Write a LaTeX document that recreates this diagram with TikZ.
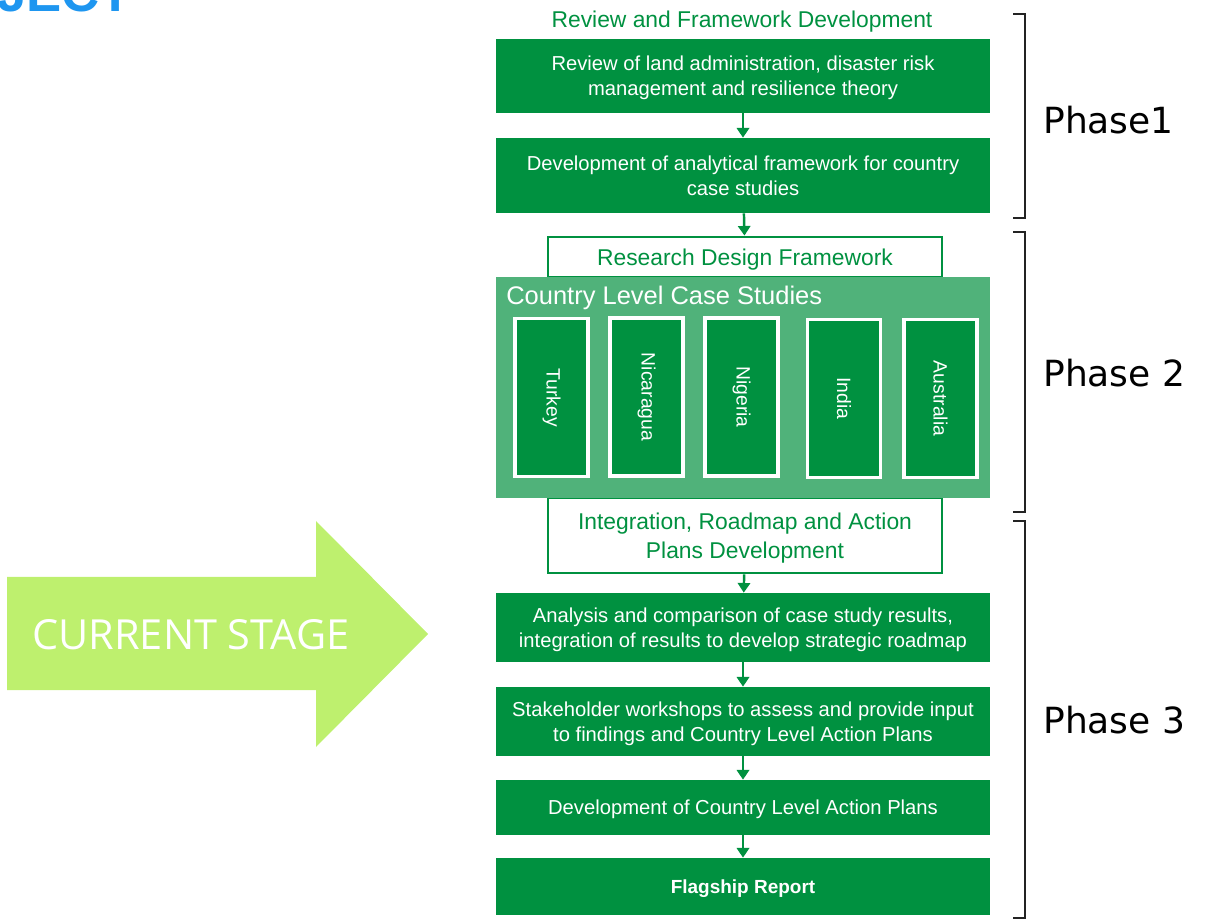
\documentclass[tikz,border=0pt]{standalone}
\usepackage{fontspec}
\setmainfont{Liberation Sans}
\newfontfamily\phasefont{DejaVu Sans}
\newfontfamily\stagefont{Open Sans}
\usetikzlibrary{arrows.meta}
\definecolor{dkgreen}{RGB}{0,145,64}
\definecolor{midgreen}{RGB}{80,178,122}
\definecolor{limegreen}{RGB}{190,240,110}
\definecolor{titleblue}{RGB}{30,150,240}
\definecolor{bracketgray}{RGB}{35,35,35}

\begin{document}
\begin{tikzpicture}[x=0.02cm,y=-0.02cm,
	stepbox/.style={fill=dkgreen,text=white,minimum width=9.88cm,inner sep=0pt,align=center,font=\fontsize{11.5}{14.2}\selectfont},
	framebox/.style={draw=dkgreen,line width=1.6pt,fill=white,text=dkgreen,minimum width=7.88cm,inner sep=0pt,align=center,font=\fontsize{13}{16.5}\selectfont},
	countrybox/.style={fill=dkgreen,draw=white,line width=2pt,text=white,rotate=-90,minimum width=3.16cm,minimum height=1.46cm,inner sep=0pt,font=\fontsize{11}{13}\selectfont},
	phaselabel/.style={anchor=west,inner sep=0pt,font=\phasefont\fontsize{20.5}{24}\selectfont},
	flow/.style={draw=dkgreen,line width=1.4pt,-{Triangle[width=7pt,length=5.5pt]}},
	bracket/.style={draw=bracketgray,line width=1.3pt}]
	\useasboundingbox (0,0) rectangle (1205,922);
	\begin{scope}
		\clip (0,0) rectangle (1205,922);
		\node(heading) [anchor=base west,inner sep=0pt,text=titleblue,font=\fontsize{30}{33}\selectfont\bfseries] at (-3,12) {JECT};
	\end{scope}

	% phase 1
	\node(phaseonetitle) [text=dkgreen,font=\fontsize{13}{16}\selectfont] at (742,22) {Review and Framework Development};
	\node(review) [stepbox,minimum height=1.48cm,text depth=-0.8pt] at (743,76) {Review of land administration, disaster risk\\management and resilience theory};
	\node(framework) [stepbox,minimum height=1.5cm,text depth=-0.8pt] at (743,175.5) {Development of analytical framework for country\\case studies};

	% phase 2
	\node(design) [framebox,minimum height=0.8cm,text depth=0pt] at (745,257) {Research Design Framework};
	\node(integration) [framebox,minimum height=1.5cm,text depth=-0.8pt] at (745,535.5) {Integration, Roadmap and Action\\Plans Development};
	\node(cases) [fill=midgreen,minimum width=9.88cm,minimum height=4.42cm,inner sep=0pt] at (743,387.5) {};
	\node(casestitle) [anchor=base west,inner sep=0pt,text=white,font=\fontsize{14.5}{17}\selectfont] at (506,305) {Country Level Case Studies};
	\node(turkey) [countrybox] at (551.5,397.5) {Turkey};
	\node(nicaragua) [countrybox] at (646.5,397) {Nicaragua};
	\node(nigeria) [countrybox] at (741.5,397) {Nigeria};
	\node(india) [countrybox] at (844,398.5) {India};
	\node(australia) [countrybox] at (940.5,398.5) {Australia};

	% phase 3
	\node(analysis) [stepbox,minimum height=1.38cm,text depth=-0.8pt] at (743,627.5) {Analysis and comparison of case study results,\\integration of results to develop strategic roadmap};
	\node(workshops) [stepbox,minimum height=1.38cm,text depth=-0.8pt] at (743,721.5) {Stakeholder workshops to assess and provide input\\to findings and Country Level Action Plans};
	\node(actionplans) [stepbox,minimum height=1.1cm,text depth=0pt] at (743,807.5) {Development of Country Level Action Plans};
	\node(flagship) [stepbox,minimum height=1.14cm,text depth=0pt,font=\fontsize{10.8}{13}\selectfont\bfseries] at (743,886.5) {Flagship Report};

	\draw [flow] (review) -- (framework);
	\draw [flow] (framework) -- (design);
	\draw [flow] (integration) -- (analysis);
	\draw [flow] (analysis) -- (workshops);
	\draw [flow] (workshops) -- (actionplans);
	\draw [flow] (actionplans) -- (flagship);

	% phases
	\draw [bracket] (1013,14) -- (1025,14) -- (1025,218) -- (1013,218);
	\draw [bracket] (1013,232) -- (1025,232) -- (1025,512) -- (1013,512);
	\draw [bracket] (1013,521) -- (1025,521) -- (1025,918) -- (1013,918);
	\node(phaseone) [phaselabel] at (1043,120) {Phase1};
	\node(phasetwo) [phaselabel] at (1043,373) {Phase 2};
	\node(phasethree) [phaselabel] at (1043,720) {Phase 3};

	% current stage
	\fill [limegreen] (7,577) -- (316,577) -- (316,521) -- (428,634) -- (316,747) -- (316,690) -- (7,690) -- cycle;
	\node(stage) [anchor=west,inner sep=0pt,text=white,font=\stagefont\fontsize{23.6}{26}\selectfont] at (32,635) {CURRENT STAGE};
\end{tikzpicture}
\end{document}
